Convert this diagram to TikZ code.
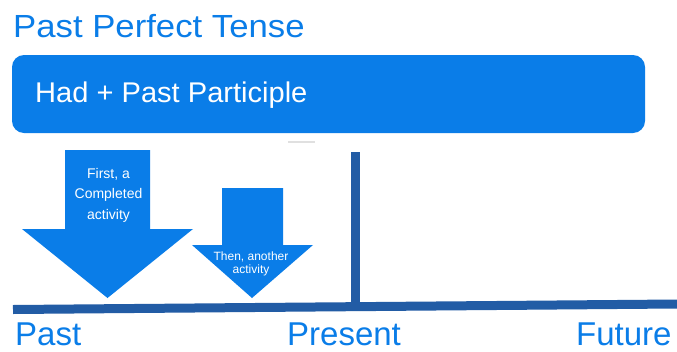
\documentclass[tikz,border=0pt]{standalone}
\usepackage{fontspec}
\setmainfont{Liberation Sans}
\newfontfamily\wideA[FakeStretch=1.085]{Liberation Sans}
\newfontfamily\wideB[FakeStretch=1.02]{Liberation Sans}
\definecolor{brightblue}{RGB}{10,125,232}
\definecolor{darkblue}{RGB}{34,92,165}
\begin{document}
\begin{tikzpicture}[x=1pt,y=-1pt,
  bigtext/.style={text=brightblue,font=\fontsize{33}{36}\selectfont,inner sep=0pt},
  arrowshape/.style={fill=brightblue},
  arrowtext/.style={text=white,align=center,inner sep=0pt},
  timeline/.style={darkblue,line width=9pt}]
\useasboundingbox (0,0) rectangle (677,351);
\fill[white] (0,0) rectangle (677,351);
% title
\node[text=brightblue,font=\wideA\fontsize{32}{36}\selectfont,inner sep=0pt,anchor=base west] (title) at (13,37) {Past Perfect Tense};
% formula box
\node[fill=brightblue,rounded corners=12pt,minimum width=633pt,minimum height=78pt,inner sep=0pt] (formula) at (328.5,94) {};
\node[text=white,font=\wideB\fontsize{28.5}{32}\selectfont,inner sep=0pt,anchor=base west] (formulatext) at (35,102.5) {Had + Past Participle};
% faint gray mark
\draw[black!12,line width=1.5pt] (288,142) -- (315,142);
% arrows
\fill[arrowshape] (65,150) -- (150,150) -- (150,229) -- (193,229) -- (107.5,298) -- (22,229) -- (65,229) -- cycle;
\node[arrowtext,font=\fontsize{14}{20.5}\selectfont] (first) at (108.5,195) {First, a\\Completed\\activity};
\fill[arrowshape] (222,188) -- (283,188) -- (283,245) -- (313,245) -- (252,298) -- (192,245) -- (222,245) -- cycle;
\node[arrowtext,font=\fontsize{12}{13.5}\selectfont] (then) at (251,264) {Then, another\\activity};
% timeline
\coordinate (tl) at (13,309.5);
\coordinate (tr) at (677,304);
\coordinate (vtop) at (355.5,152);
\coordinate (vbot) at (355.5,308);
\draw[timeline] (tl) -- (tr);
\draw[darkblue,line width=9pt] (vtop) -- (vbot);
% labels
\node[bigtext,anchor=base west] (past) at (15,345.5) {Past};
\node[bigtext,anchor=base west] (present) at (287,345.5) {Present};
\node[bigtext,anchor=base west] (future) at (576,345.5) {Future};
\end{tikzpicture}
\end{document}
